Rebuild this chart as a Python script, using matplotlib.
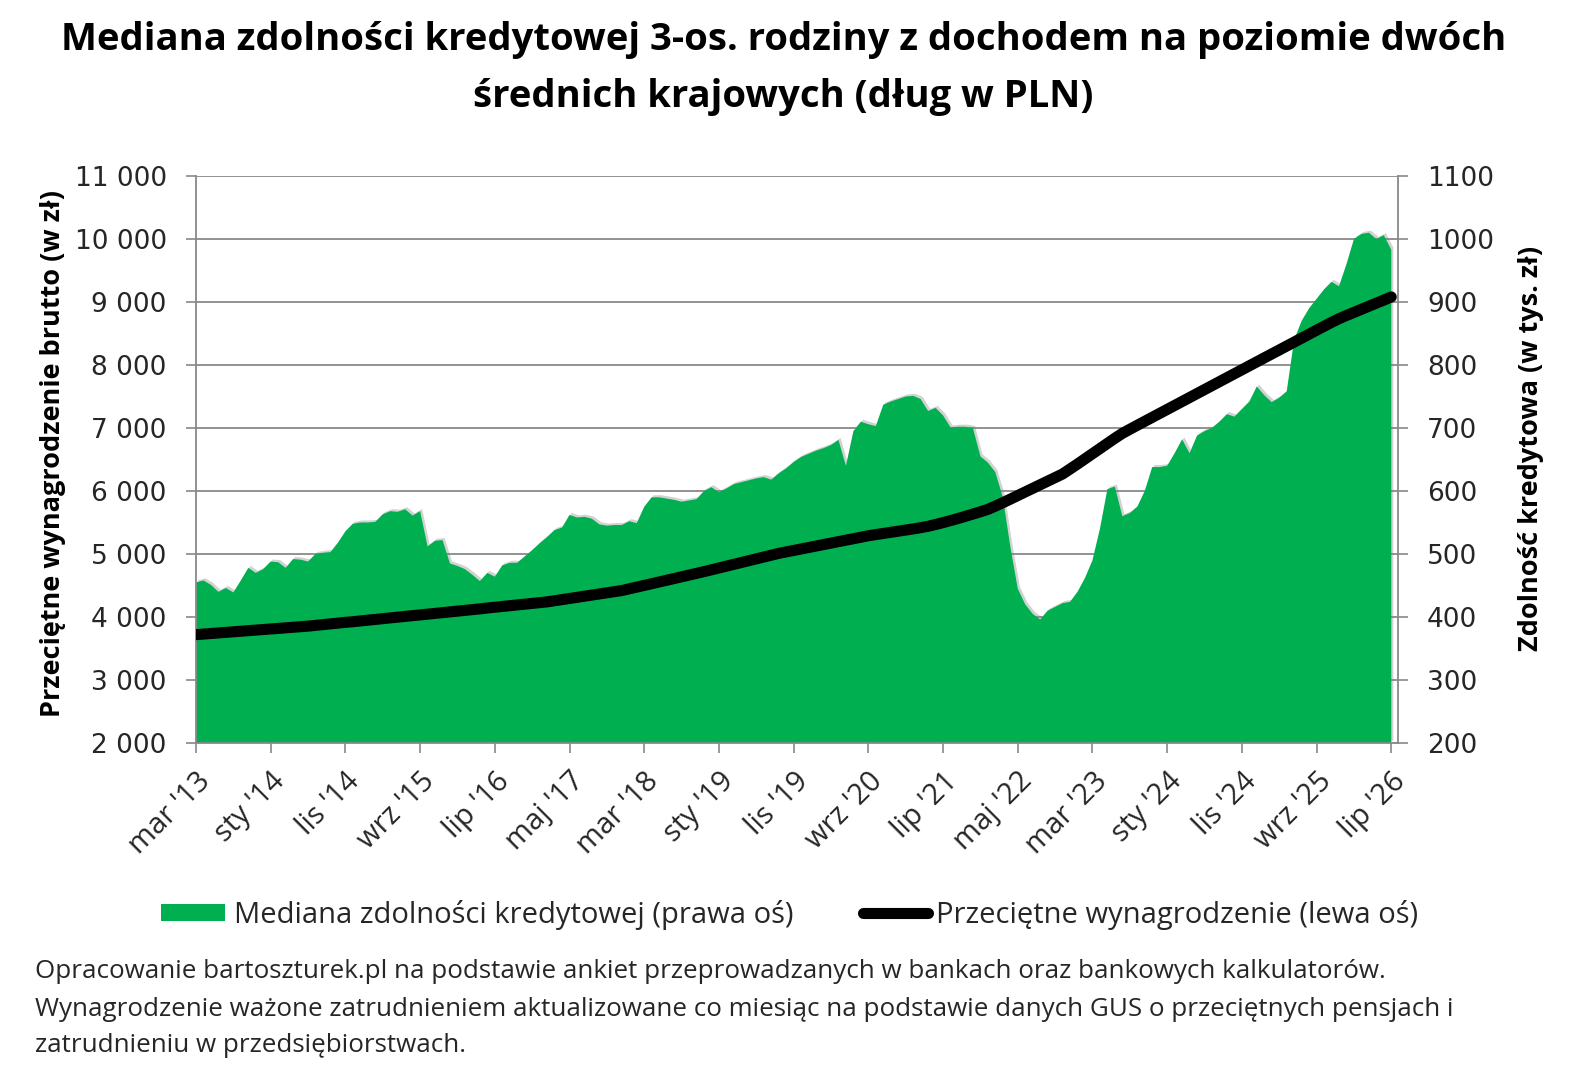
import matplotlib.pyplot as plt
import matplotlib.patheffects as pe
from matplotlib.lines import Line2D
from matplotlib.patches import Patch
from matplotlib.ticker import FuncFormatter

plt.rcParams['font.family'] = ['Open Sans', 'DejaVu Sans']

# miesiace od marca 2013 do lipca 2026 (161 punktow)
tick_labels = ["mar '13", "sty '14", "lis '14", "wrz '15", "lip '16", "maj '17",
               "mar '18", "sty '19", "lis '19", "wrz '20", "lip '21", "maj '22",
               "mar '23", "sty '24", "lis '24", "wrz '25", "lip '26"]

# przecietne wynagrodzenie brutto (zl) - lewa os
wage = [3720, 3729, 3737, 3747, 3756, 3764, 3774, 3783, 3791, 3801,
        3810, 3818, 3828, 3837, 3845, 3855, 3867, 3878, 3891, 3903,
        3915, 3925, 3938, 3950, 3961, 3974, 3986, 3997, 4010, 4021,
        4033, 4045, 4056, 4069, 4082, 4093, 4106, 4118, 4129, 4143,
        4155, 4166, 4179, 4191, 4204, 4215, 4228, 4240, 4258, 4275,
        4294, 4312, 4329, 4348, 4366, 4383, 4402, 4420, 4447, 4474,
        4502, 4529, 4556, 4583, 4611, 4638, 4665, 4692, 4720, 4749,
        4777, 4807, 4836, 4864, 4894, 4923, 4951, 4981, 5010, 5033,
        5056, 5080, 5103, 5126, 5150, 5173, 5196, 5220, 5243, 5266,
        5290, 5308, 5326, 5344, 5362, 5380, 5398, 5418, 5440, 5468,
        5498, 5530, 5563, 5598, 5634, 5670, 5708, 5760, 5814, 5870,
        5928, 5985, 6042, 6099, 6156, 6213, 6270, 6348, 6428, 6510,
        6592, 6674, 6755, 6837, 6915, 6980, 7043, 7106, 7170, 7232,
        7295, 7358, 7420, 7483, 7546, 7609, 7672, 7735, 7798, 7861,
        7924, 7987, 8050, 8113, 8175, 8238, 8301, 8363, 8426, 8489,
        8552, 8614, 8677, 8735, 8786, 8835, 8884, 8933, 8982, 9031,
        9080]

# mediana zdolnosci kredytowej (tys. zl) - prawa os
credit = [455, 458, 451, 440, 446, 439, 458, 478, 470, 476,
          488, 487, 478, 492, 491, 488, 500, 502, 503, 518,
          536, 548, 550, 550, 551, 563, 568, 567, 571, 561,
          568, 512, 521, 522, 485, 481, 476, 467, 457, 470,
          464, 482, 486, 486, 496, 506, 517, 527, 538, 542,
          562, 558, 559, 556, 547, 545, 546, 546, 552, 549,
          575, 590, 590, 588, 586, 583, 585, 587, 600, 606,
          598, 604, 611, 614, 617, 620, 622, 618, 628, 636,
          646, 654, 659, 664, 668, 673, 681, 640, 695, 710,
          706, 703, 737, 742, 746, 750, 751, 746, 727, 732,
          720, 701, 702, 702, 700, 655, 645, 630, 590, 512,
          445, 420, 405, 396, 410, 416, 422, 424, 440, 462,
          490, 540, 603, 607, 560, 565, 575, 600, 638, 638,
          640, 660, 682, 660, 688, 695, 700, 710, 722, 718,
          730, 742, 766, 752, 741, 748, 758, 840, 870, 890,
          905, 920, 932, 925, 960, 1000, 1008, 1010, 1000, 1006,
          983]

months = list(range(len(wage)))
green = '#00B050'
gray = '#898989'
txt = '#262626'
num_font = 'DejaVu Sans'

fig = plt.figure(figsize=(15.73, 10.80), dpi=100)
ax2 = fig.add_axes([196 / 1573, 1 - 743 / 1080, 1202 / 1573, 567 / 1080])
ax = ax2.twinx()
ax.set_zorder(ax2.get_zorder() + 1)
ax.patch.set_visible(False)

# obszar - zdolnosc kredytowa
area = ax2.fill_between(months, credit, 200, color=green, lw=0, zorder=2)
area.set_path_effects([pe.SimplePatchShadow(offset=(1.5, 1.5), shadow_rgbFace='#808080', alpha=0.35),
                       pe.Normal()])
ax2.set_ylim(200, 1100)
ax2.set_yticks(range(200, 1101, 100))
ax2.yaxis.tick_right()
ax2.grid(axis='y', color=gray, lw=1.3, zorder=0)
ax2.set_axisbelow(True)

# linia - wynagrodzenie
ax.plot(months, wage, color='black', lw=8, solid_capstyle='round', solid_joinstyle='round', zorder=3)
ax.set_ylim(2000, 11000)
ax.set_yticks(range(2000, 11001, 1000))
ax.yaxis.tick_left()
ax.yaxis.set_major_formatter(FuncFormatter(lambda v, p: f'{int(v):,}'.replace(',', ' ')))

ax.set_xlim(0, 160.9)
ax.set_xticks(range(0, 161, 10))
ax2.set_xticks(range(0, 161, 10))
ax2.set_xticklabels(tick_labels, rotation=45, ha='right', va='top', rotation_mode='anchor',
                    fontsize=21)
ax.tick_params(axis='x', bottom=False, labelbottom=False)

for a in (ax, ax2):
    for s in a.spines.values():
        s.set_visible(False)
for s in ('left', 'right', 'bottom'):
    ax2.spines[s].set_visible(True)
    ax2.spines[s].set_color(gray)
    ax2.spines[s].set_linewidth(1.3)

ax.tick_params(axis='y', direction='out', length=7, width=1.2, color=gray,
               labelcolor=txt, pad=14)
ax2.tick_params(axis='y', direction='out', length=7, width=1.2, color=gray,
                labelcolor=txt, pad=14)
ax2.tick_params(axis='x', direction='out', length=7, width=1.2, color=gray,
                labelcolor=txt, pad=10)
for lab in ax.get_yticklabels() + ax2.get_yticklabels():
    lab.set_fontfamily(num_font)
    lab.set_fontsize(19)

ax.set_ylabel('Przeciętne wynagrodzenie brutto (w zł)', fontsize=19.5, fontweight='bold', color='black')
ax.yaxis.set_label_coords(-0.13, 0.51)
ax2.set_ylabel('Zdolność kredytowa (w tys. zł)', fontsize=19.5, fontweight='bold', color='black')
ax2.yaxis.set_label_position('right')
ax2.yaxis.set_label_coords(1.10, 0.52)

fig.text(0.498, 1 - 40 / 1080, 'Mediana zdolności kredytowej 3-os. rodziny z dochodem na poziomie dwóch',
         ha='center', va='center', fontsize=27.5, fontweight='bold', color='black')
fig.text(0.498, 1 - 97 / 1080, 'średnich krajowych (dług w PLN)',
         ha='center', va='center', fontsize=27.5, fontweight='bold', color='black')

handles = [Patch(facecolor=green, edgecolor='none'),
           Line2D([0], [0], color='black', lw=8, solid_capstyle='round')]
fig.legend(handles, ['Mediana zdolności kredytowej (prawa oś)', 'Przeciętne wynagrodzenie (lewa oś)'],
           loc='center', bbox_to_anchor=(0.502, 1 - 915 / 1080), ncol=2, frameon=False,
           fontsize=21, handlelength=2.2, handleheight=0.55, handletextpad=0.3,
           columnspacing=2.4, labelcolor=txt)

notes = ['Opracowanie bartoszturek.pl na podstawie ankiet przeprowadzanych w bankach oraz bankowych kalkulatorów.',
         'Wynagrodzenie ważone zatrudnieniem aktualizowane co miesiąc na podstawie danych GUS o przeciętnych pensjach i',
         'zatrudnieniu w przedsiębiorstwach.']
for k, line in enumerate(notes):
    fig.text(35 / 1573, 1 - (972 + 37 * k) / 1080, line, ha='left', va='center', fontsize=18.7, color=txt)

fig.savefig('out.png', dpi=100)
